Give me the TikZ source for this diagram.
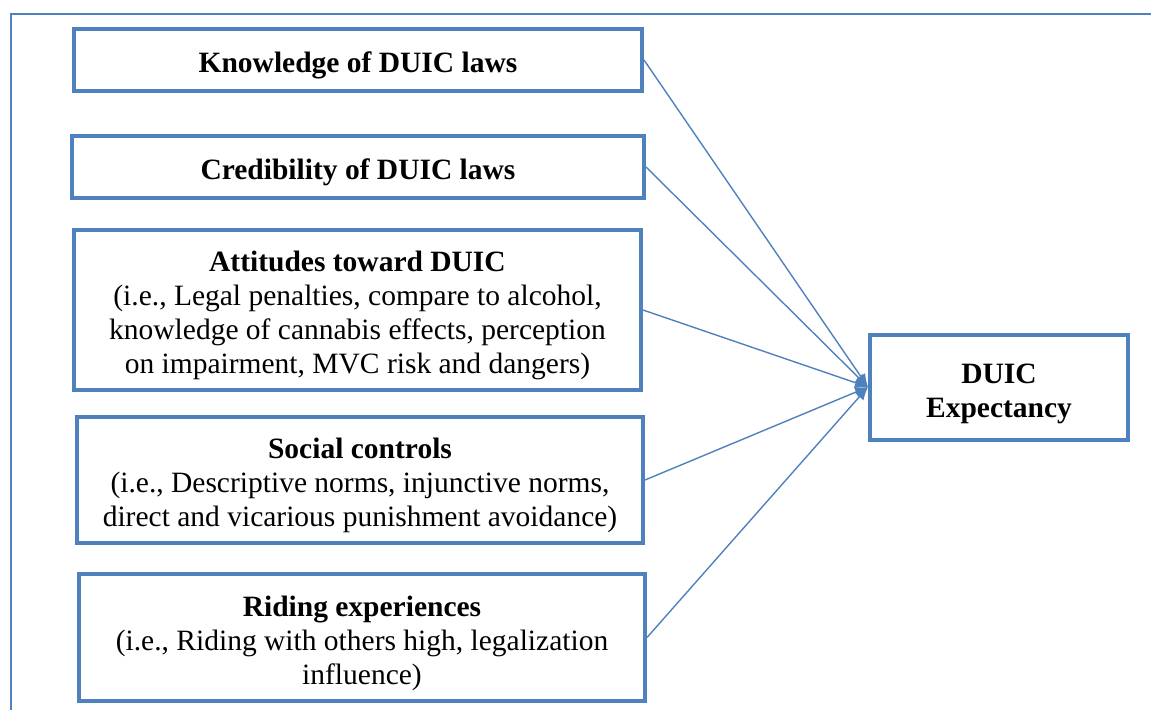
\documentclass[tikz,border=0pt]{standalone}
\usepackage{fontspec}
\setmainfont{Liberation Serif}
\usetikzlibrary{arrows.meta}
\definecolor{ob}{HTML}{4F81BD}
\newcommand\bxtext[1]{\raisebox{-6pt}[\height][\depth]{\begin{tabular}{@{}c@{}}#1\end{tabular}}}
\newcommand\hd[1]{\textbf{#1}}
\begin{document}
\begin{tikzpicture}[x=1pt,y=-1pt,
  box/.style={draw=ob, line width=4pt, inner sep=0pt,
    font=\fontsize{29.5}{34}\selectfont},
  conn/.style={draw=ob, line width=1.4pt, -{Latex[length=13pt,width=11pt]}}]
\useasboundingbox (0,0) rectangle (1151,710);
\draw[ob, line width=2pt] (10.7,710) -- (10.7,14.3) -- (1151,14.3);
\node[box, minimum width=568pt, minimum height=62pt] (k) at (358,60) {\bxtext{\hd{Knowledge of DUIC laws}}};
\node[box, minimum width=572pt, minimum height=62pt] (c) at (358,167) {\bxtext{\hd{Credibility of DUIC laws}}};
\node[box, minimum width=567pt, minimum height=160pt] (a) at (357.5,310) {\bxtext{\hd{Attitudes toward DUIC}\\(i.e., Legal penalties, compare to alcohol,\\knowledge of cannabis effects, perception\\on impairment, MVC risk and dangers)}};
\node[box, minimum width=566pt, minimum height=126pt] (s) at (360,480) {\bxtext{\hd{Social controls}\\(i.e., Descriptive norms, injunctive norms,\\direct and vicarious punishment avoidance)}};
\node[box, minimum width=566pt, minimum height=127pt] (r) at (362,637.5) {\bxtext{\hd{Riding experiences}\\(i.e., Riding with others high, legalization\\influence)}};
\node[box, minimum width=258pt, minimum height=105pt] (d) at (999,387.5) {\bxtext{\hd{DUIC}\\\hd{Expectancy}}};
\coordinate (t) at (868,387);
\foreach \n in {k,c,a,s,r} \draw[conn] (\n.east) -- (t);
\end{tikzpicture}
\end{document}
